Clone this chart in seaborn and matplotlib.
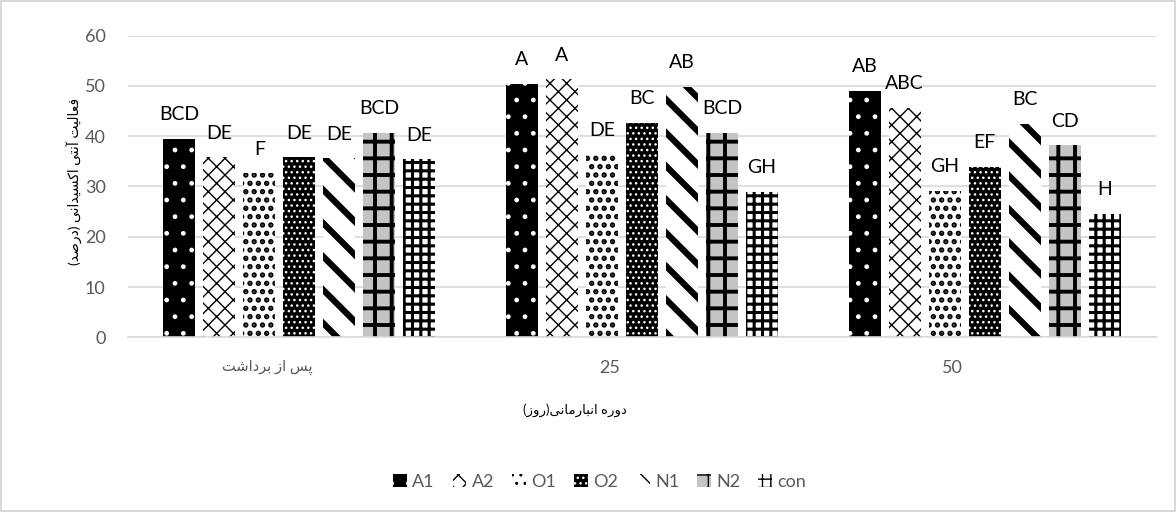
import numpy as np
import pandas as pd
import seaborn as sns
import matplotlib
matplotlib.use("Agg")
import matplotlib.pyplot as plt
from matplotlib.patches import Patch
from matplotlib.transforms import ScaledTranslation

# ---- data -------------------------------------------------------------
periods = ["پس از برداشت", "25", "50"]
treatments = ["A1", "A2", "O1", "O2", "N1", "N2", "con"]

a1 = [39.4, 50.4, 49.0]
a2 = [35.8, 51.3, 45.7]
o1 = [32.6, 36.4, 29.1]
o2 = [35.8, 42.7, 33.9]
n1 = [35.6, 49.8, 42.5]
n2 = [40.6, 40.7, 38.2]
con = [35.4, 29.0, 24.5]

a1_groups = ["BCD", "A", "AB"]
a2_groups = ["DE", "A", "ABC"]
o1_groups = ["F", "DE", "GH"]
o2_groups = ["DE", "BC", "EF"]
n1_groups = ["DE", "AB", "BC"]
n2_groups = ["BCD", "BCD", "CD"]
con_groups = ["DE", "GH", "H"]

y_label = "فعالیت آنتی اکسیدانی (درصد)"
x_label = "دوره انبارمانی(روز)"

values = [a1, a2, o1, o2, n1, n2, con]
groups = [a1_groups, a2_groups, o1_groups, o2_groups, n1_groups, n2_groups, con_groups]

# ---- minimal Persian shaping (contextual forms + right-to-left order) ---
FORMS = {
    "ا": ("\uFE8D", "\uFE8E", None, None),
    "آ": ("\uFE81", "\uFE82", None, None),
    "ب": ("\uFE8F", "\uFE90", "\uFE91", "\uFE92"),
    "پ": ("\uFB56", "\uFB57", "\uFB58", "\uFB59"),
    "ت": ("\uFE95", "\uFE96", "\uFE97", "\uFE98"),
    "د": ("\uFEA9", "\uFEAA", None, None),
    "ر": ("\uFEAD", "\uFEAE", None, None),
    "ز": ("\uFEAF", "\uFEB0", None, None),
    "س": ("\uFEB1", "\uFEB2", "\uFEB3", "\uFEB4"),
    "ش": ("\uFEB5", "\uFEB6", "\uFEB7", "\uFEB8"),
    "ص": ("\uFEB9", "\uFEBA", "\uFEBB", "\uFEBC"),
    "ع": ("\uFEC9", "\uFECA", "\uFECB", "\uFECC"),
    "ف": ("\uFED1", "\uFED2", "\uFED3", "\uFED4"),
    "ک": ("\uFB8E", "\uFB8F", "\uFB90", "\uFB91"),
    "ل": ("\uFEDD", "\uFEDE", "\uFEDF", "\uFEE0"),
    "م": ("\uFEE1", "\uFEE2", "\uFEE3", "\uFEE4"),
    "ن": ("\uFEE5", "\uFEE6", "\uFEE7", "\uFEE8"),
    "ه": ("\uFEE9", "\uFEEA", "\uFEEB", "\uFEEC"),
    "و": ("\uFEED", "\uFEEE", None, None),
    "ی": ("\uFBFC", "\uFBFD", "\uFBFE", "\uFBFF"),
}


def rtl(text):
    if not any(c in FORMS for c in text):
        return text
    out = []
    for i, c in enumerate(text):
        if c not in FORMS:
            out.append(c)
            continue
        iso, fin, ini, med = FORMS[c]
        prev = text[i - 1] if i > 0 else ""
        nxt = text[i + 1] if i + 1 < len(text) else ""
        join_prev = prev in FORMS and FORMS[prev][2] is not None
        join_next = ini is not None and nxt in FORMS
        if join_prev and join_next:
            out.append(med)
        elif join_prev:
            out.append(fin)
        elif join_next:
            out.append(ini)
        else:
            out.append(iso)
    return "".join(reversed(out)).translate(str.maketrans("()", ")("))


# ---- styling ----------------------------------------------------------
sns.set_theme(style="white")
plt.rcParams["font.family"] = ["Lato", "DejaVu Sans"]

GRID = "#d9d9d9"
TXT = "#595959"

# face colour, hatch colour, hatch, hatch line width
styles = {
    "A1": ("black", "white", ".", 1.0),
    "A2": ("white", "black", "xx", 1.0),
    "O1": ("white", "black", "..", 2.6),
    "O2": ("black", "white", "...", 1.0),
    "N1": ("white", "black", "\\", 4.5),
    "N2": ("#c4c4c4", "black", "+", 2.8),
    "con": ("white", "black", "++", 2.2),
}

df = pd.DataFrame(
    [(p, t, v) for t, vals in zip(treatments, values) for p, v in zip(periods, vals)],
    columns=["period", "treatment", "value"],
)

fig = plt.figure(figsize=(11.76, 5.12), dpi=100)
fig.patch.set_facecolor("white")
fig.patch.set_edgecolor(GRID)
fig.patch.set_linewidth(1.5)
ax = fig.add_axes([0.1088, 0.3412, 0.8741, 0.5891])

sns.barplot(
    data=df, x="period", y="value", hue="treatment",
    order=periods, hue_order=treatments,
    width=0.817, gap=0.2, saturation=1, errorbar=None,
    palette=["white"] * len(treatments), legend=False, ax=ax,
)


def apply_style(patch, style):
    face, hcol, hatch, hlw = style
    patch.set_facecolor(face)
    patch.set_edgecolor(hcol)
    patch.set_linewidth(0)
    patch.set_hatch(hatch)
    if hasattr(patch, "set_hatch_linewidth"):
        patch.set_hatch_linewidth(hlw)
    else:
        patch._hatch_linewidth = hlw


for cont, t, letters in zip(ax.containers, treatments, groups):
    for bar, lab in zip(cont, letters):
        apply_style(bar, styles[t])
        ax.annotate(
            lab, (bar.get_x() + bar.get_width() / 2, bar.get_height()),
            xytext=(0, 13.5), textcoords="offset points",
            ha="center", va="baseline", fontsize=14, color="black",
        )

ax.set_ylim(0, 60)
ax.set_yticks(np.arange(0, 61, 10))
ax.yaxis.grid(True, color=GRID, linewidth=1.2)
ax.set_axisbelow(True)
for side in ("top", "right", "left"):
    ax.spines[side].set_visible(False)
ax.spines["bottom"].set_color(GRID)
ax.spines["bottom"].set_linewidth(1.2)
ax.tick_params(axis="y", length=0, pad=16, labelsize=13, labelcolor=TXT)
ax.tick_params(axis="x", length=0, pad=16, labelsize=13, labelcolor=TXT)
ax.set_xticks(range(len(periods)))
ax.set_xticklabels([rtl(p) for p in periods])
shift = ScaledTranslation(-0.32, 0, fig.dpi_scale_trans)
for lab in ax.get_xticklabels():
    lab.set_transform(lab.get_transform() + shift)
    if any(c in FORMS for c in lab.get_text()) or lab.get_text() not in periods:
        pass
ax.get_xticklabels()[0].set_fontsize(10.5)
ax.set_xlabel("")
ax.set_ylabel("")

fig.text(0.064, 0.645, rtl(y_label), rotation=90, ha="center", va="center",
         fontsize=10, color="black")
fig.text(0.489, 0.199, rtl(x_label), ha="center", va="center",
         fontsize=9.5, color="black")

handles = []
for t in treatments:
    h = Patch()
    apply_style(h, styles[t])
    handles.append(h)
fig.legend(
    handles, treatments, loc="center", bbox_to_anchor=(0.51, 0.0586),
    ncol=7, frameon=False, fontsize=13, handlelength=0.75, handleheight=0.75,
    handletextpad=0.3, columnspacing=1.0, labelcolor=TXT,
)

fig.savefig("out.png", dpi=100)
